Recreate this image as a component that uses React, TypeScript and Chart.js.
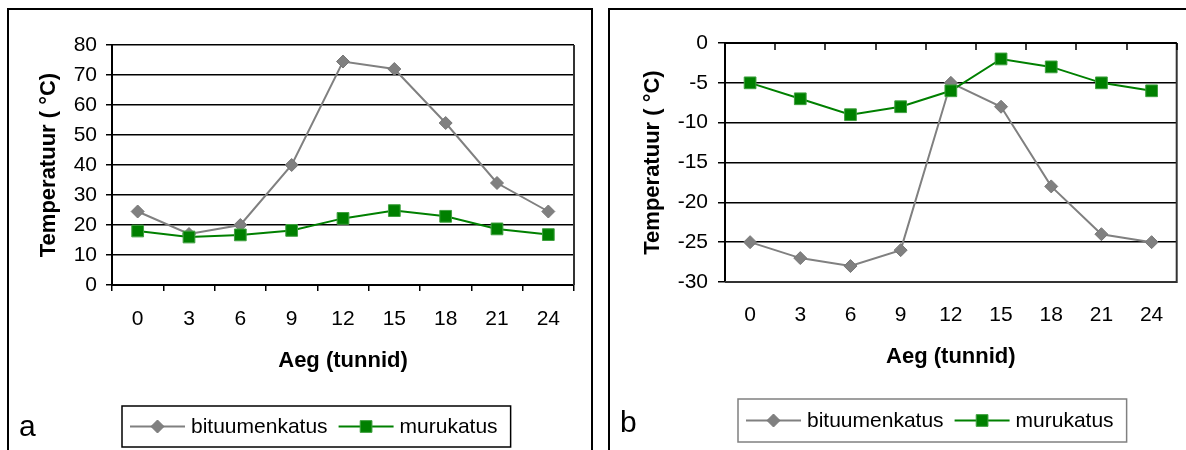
import React, { useEffect, useRef } from "react";
import { Chart, registerables } from "chart.js";

Chart.register(...registerables);

// ---- data ----
const hours = ["0", "3", "6", "9", "12", "15", "18", "21", "24"];
const seriesNames = ["bituumenkatus", "murukatus"];
const summerBitumen = [24.5, 17, 20, 40, 74.5, 72, 54, 34, 24.5];
const summerGreen = [18, 16, 16.7, 18.2, 22.2, 24.8, 22.9, 18.7, 16.8];
const winterBitumen = [-25, -27, -28, -26, -5, -8, -18, -24, -25];
const winterGreen = [-5, -7, -9, -8, -6, -2, -3, -5, -6];
const summerAxis = [0, 80, 10]; // min, max, step
const winterAxis = [-30, 0, 5];
const xTitle = "Aeg (tunnid)";
const yTitle = "Temperatuur ( °C)";
const panelLetters = ["a", "b"];

const FONT = "'Liberation Sans', Arial, Helvetica, sans-serif";
const GRAY = "#808080";
const GREEN = "#008000";

function drawMarker(ctx: CanvasRenderingContext2D, style: string, r: number, x: number, y: number) {
  ctx.beginPath();
  if (style === "rectRot") {
    ctx.moveTo(x - r, y);
    ctx.lineTo(x, y - r);
    ctx.lineTo(x + r, y);
    ctx.lineTo(x, y + r);
    ctx.closePath();
  } else {
    const s = r * Math.SQRT1_2;
    ctx.rect(x - s, y - s, 2 * s, 2 * s);
  }
  ctx.fill();
  ctx.stroke();
}

const decorPlugin = {
  id: "decor",
  beforeDatasetsDraw(chart: any, _args: any, opts: any) {
    const { ctx, chartArea: ca } = chart;
    ctx.save();
    ctx.strokeStyle = opts.plotBorderColor;
    ctx.lineWidth = 2;
    ctx.beginPath();
    ctx.moveTo(ca.right, ca.top);
    ctx.lineTo(ca.right, ca.bottom);
    if (opts.bottomBorder) {
      ctx.moveTo(ca.left, ca.bottom);
      ctx.lineTo(ca.right + 1, ca.bottom);
    }
    ctx.stroke();
    if (opts.topTicks) {
      const xs = chart.scales.x;
      const n = chart.data.labels.length;
      const w = (xs.right - xs.left) / n;
      ctx.strokeStyle = "#000";
      ctx.lineWidth = 1.5;
      ctx.beginPath();
      for (let k = 0; k <= n; k++) {
        const px = Math.round(xs.left + k * w);
        ctx.moveTo(px, ca.top);
        ctx.lineTo(px, ca.top + opts.topTickLength);
      }
      ctx.stroke();
      ctx.lineWidth = 2;
      ctx.beginPath();
      ctx.moveTo(ca.left, ca.top);
      ctx.lineTo(ca.right, ca.top);
      ctx.stroke();
    }
    ctx.restore();
  },
  afterDraw(chart: any, _args: any, opts: any) {
    const { ctx } = chart;
    const lg = opts.legend;
    ctx.save();
    ctx.font = `${lg.fontSize}px ${FONT}`;
    const dss = chart.data.datasets;
    const widths = dss.map((d: any) => ctx.measureText(d.label).width);
    let total = lg.padLeft + lg.padRight;
    widths.forEach((w: number, i: number) => {
      total += lg.lineLen + lg.textGap + w + (i > 0 ? lg.itemGap : 0);
    });
    ctx.strokeStyle = lg.borderColor;
    ctx.lineWidth = 1.5;
    ctx.strokeRect(lg.left, lg.top, total, lg.height);
    const cy = lg.top + lg.height / 2;
    let x = lg.left + lg.padLeft;
    dss.forEach((d: any, i: number) => {
      ctx.strokeStyle = d.borderColor;
      ctx.lineWidth = d.borderWidth;
      ctx.beginPath();
      ctx.moveTo(x, cy);
      ctx.lineTo(x + lg.lineLen, cy);
      ctx.stroke();
      ctx.fillStyle = d.pointBackgroundColor;
      ctx.strokeStyle = d.pointBorderColor;
      ctx.lineWidth = d.pointBorderWidth;
      drawMarker(ctx, d.pointStyle, d.pointRadius, x + lg.lineLen / 2, cy);
      ctx.fillStyle = "#000";
      ctx.textBaseline = "middle";
      ctx.textAlign = "left";
      ctx.fillText(d.label, x + lg.lineLen + lg.textGap, cy + 1);
      x += lg.lineLen + lg.textGap + widths[i] + lg.itemGap;
    });
    // panel letter
    ctx.font = `${opts.letter.size}px ${FONT}`;
    ctx.textBaseline = "alphabetic";
    ctx.fillStyle = "#000";
    ctx.fillText(opts.letter.text, opts.letter.x, opts.letter.y);
    ctx.restore();
  },
};

type PanelCfg = {
  bit: number[];
  green: number[];
  axis: number[];
  yWidth: number;
  padTop: number;
  padRight: number;
  padBottom: number;
  xHeight: number;
  yTitlePad: number;
  yTickPad: number;
  yTickLen: number;
  xTickPad: number;
  xTitlePad: number;
  bottomTicks: boolean;
  topTicks: boolean;
  legend: any;
  letter: any;
};

function buildConfig(p: PanelCfg): any {
  return {
    type: "line",
    data: {
      labels: hours,
      datasets: [
        {
          label: seriesNames[0],
          data: p.bit,
          borderColor: GRAY,
          backgroundColor: GRAY,
          borderWidth: 2,
          tension: 0,
          pointStyle: "rectRot",
          pointRadius: 6.5,
          pointHoverRadius: 6.5,
          pointBackgroundColor: GRAY,
          pointBorderColor: "#777777",
          pointBorderWidth: 1,
          order: 2,
        },
        {
          label: seriesNames[1],
          data: p.green,
          borderColor: GREEN,
          backgroundColor: GREEN,
          borderWidth: 2,
          tension: 0,
          pointStyle: "rect",
          pointRadius: 8.3,
          pointHoverRadius: 8.3,
          pointBackgroundColor: GREEN,
          pointBorderColor: "#3fa03f",
          pointBorderWidth: 1,
          order: 1,
        },
      ],
    },
    options: {
      responsive: false,
      animation: false,
      devicePixelRatio: 1,
      events: [],
      layout: { padding: { left: 0, right: p.padRight, top: p.padTop, bottom: p.padBottom } },
      plugins: {
        legend: { display: false },
        tooltip: { enabled: false },
        decor: {
          plotBorderColor: "#333333",
          bottomBorder: p.topTicks,
          topTicks: p.topTicks,
          topTickLength: 7,
          legend: p.legend,
          letter: p.letter,
        },
      },
      scales: {
        x: {
          type: "category",
          offset: true,
          border: { display: p.bottomTicks, color: "#000", width: 2 },
          grid: {
            display: p.bottomTicks,
            offset: true,
            drawOnChartArea: false,
            drawTicks: p.bottomTicks,
            tickLength: 6,
            color: "#000",
            lineWidth: 1.5,
          },
          ticks: {
            autoSkip: false,
            maxRotation: 0,
            minRotation: 0,
            padding: p.xTickPad,
            color: "#000",
            font: { family: FONT, size: 21 },
          },
          title: {
            display: true,
            text: xTitle,
            color: "#000",
            font: { family: FONT, size: 22, weight: "bold" },
            padding: { top: 0, bottom: p.xTitlePad },
          },
          afterFit: (s: any) => {
            s.height = p.xHeight;
          },
        },
        y: {
          min: p.axis[0],
          max: p.axis[1],
          border: { display: true, color: "#000", width: 2 },
          grid: {
            color: "#000",
            lineWidth: 1.5,
            drawTicks: true,
            tickLength: p.yTickLen,
            tickColor: "#000",
            tickWidth: 1.5,
          },
          ticks: {
            stepSize: p.axis[2],
            padding: p.yTickPad,
            color: "#000",
            font: { family: FONT, size: 21 },
          },
          title: {
            display: true,
            text: yTitle,
            color: "#000",
            font: { family: FONT, size: 22, weight: "bold" },
            padding: { top: p.yTitlePad, bottom: 0 },
          },
          afterFit: (s: any) => {
            s.width = p.yWidth;
          },
        },
      },
    },
    plugins: [decorPlugin],
  };
}

const legendBase = { fontSize: 21, lineLen: 55, textGap: 6, itemGap: 11, padLeft: 8, padRight: 13 };

const leftCfg: PanelCfg = {
  bit: summerBitumen,
  green: summerGreen,
  axis: summerAxis,
  yWidth: 103,
  padTop: 35,
  padRight: 17,
  padBottom: 65,
  xHeight: 100,
  yTitlePad: 26.8,
  yTickPad: 9,
  yTickLen: 6,
  xTickPad: 15.4,
  xTitlePad: 10.8,
  bottomTicks: true,
  topTicks: false,
  legend: { ...legendBase, left: 113, top: 396, height: 41, borderColor: "#000" },
  letter: { text: panelLetters[0], x: 10, y: 426, size: 30 },
};

const rightCfg: PanelCfg = {
  bit: winterBitumen,
  green: winterGreen,
  axis: winterAxis,
  yWidth: 115,
  padTop: 33,
  padRight: 9,
  padBottom: 68,
  xHeight: 100,
  yTitlePad: 29.8,
  yTickPad: 10,
  yTickLen: 7,
  xTickPad: 20.4,
  xTitlePad: 12,
  bottomTicks: false,
  topTicks: true,
  legend: { ...legendBase, left: 128, top: 389, height: 43, borderColor: "#808080" },
  letter: { text: panelLetters[1], x: 10, y: 422, size: 30 },
};

function Panel({ cfg, left, top, width, height }: { cfg: PanelCfg; left: number; top: number; width: number; height: number }) {
  const ref = useRef<HTMLCanvasElement | null>(null);
  useEffect(() => {
    if (!ref.current) return;
    const chart = new Chart(ref.current, buildConfig(cfg));
    return () => chart.destroy();
  }, [cfg]);
  return (
    <canvas
      ref={ref}
      width={width}
      height={height}
      style={{ position: "absolute", left, top, width, height }}
    />
  );
}

export default function App() {
  return (
    <div
      style={{
        position: "fixed",
        left: 0,
        top: 0,
        width: 1186,
        height: 450,
        overflow: "hidden",
        background: "#fff",
      }}
    >
      <div
        style={{
          position: "absolute",
          left: 7,
          top: 8,
          width: 586,
          height: 470,
          boxSizing: "border-box",
          border: "2px solid #000",
        }}
      />
      <div
        style={{
          position: "absolute",
          left: 608,
          top: 8,
          width: 620,
          height: 470,
          boxSizing: "border-box",
          border: "2px solid #000",
        }}
      />
      <Panel cfg={leftCfg} left={9} top={10} width={582} height={440} />
      <Panel cfg={rightCfg} left={610} top={10} width={576} height={440} />
    </div>
  );
}
